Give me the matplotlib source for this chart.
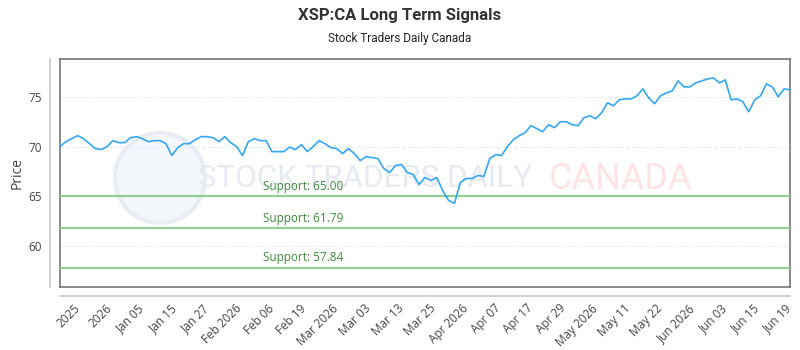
import numpy as np
import matplotlib
matplotlib.use('Agg')
import matplotlib.pyplot as plt
from matplotlib.lines import Line2D
from matplotlib.patches import Circle

# closing prices
price = [
    70.0, 70.5, 70.8, 71.1, 70.8, 70.3, 69.8, 69.7, 70.0, 70.6,
    70.4, 70.4, 70.9, 71.0, 70.8, 70.5, 70.6, 70.6, 70.3, 69.1,
    69.9, 70.3, 70.3, 70.7, 71.0, 71.0, 70.9, 70.5, 71.0, 70.4,
    70.0, 69.1, 70.5, 70.8, 70.6, 70.6, 69.5, 69.5, 69.5, 69.95,
    69.7, 70.2, 69.5, 70.0, 70.6, 70.3, 69.9, 69.8, 69.3, 69.8,
    69.3, 68.6, 69.0, 68.9, 68.8, 67.8, 67.4, 68.1, 68.2, 67.4,
    67.2, 66.2, 66.9, 66.6, 66.9, 65.6, 64.6, 64.3, 66.4, 66.8,
    66.8, 67.1, 67.0, 68.8, 69.2, 69.1, 70.0, 70.7, 71.1, 71.4,
    72.1, 71.8, 71.5, 72.2, 71.9, 72.5, 72.5, 72.2, 72.1, 72.9,
    73.1, 72.8, 73.4, 74.4, 74.1, 74.7, 74.8, 74.8, 75.1, 75.8,
    74.9, 74.3, 75.1, 75.4, 75.6, 76.6, 76.0, 76.0, 76.4, 76.6,
    76.8, 76.9, 76.4, 76.7, 74.7, 74.8, 74.5, 73.5, 74.7, 75.1,
    76.3, 76.0, 75.0, 75.8, 75.7,
]
support_levels = [65.00, 61.79, 57.84]
tick_labels = ['2025', '2026', 'Jan 05', 'Jan 15', 'Jan 27', 'Feb 2026', 'Feb 06',
               'Feb 19', 'Mar 2026', 'Mar 03', 'Mar 13', 'Mar 25', 'Apr 2026',
               'Apr 07', 'Apr 17', 'Apr 29', 'May 2026', 'May 11', 'May 22',
               'Jun 2026', 'Jun 03', 'Jun 15', 'Jun 19']

plt.rcParams['font.family'] = ['Open Sans', 'DejaVu Sans']

fig = plt.figure(figsize=(8, 3.5), dpi=100)
ax = fig.add_axes([0.075, 0.18, 0.9125, 0.6514])
x = np.arange(len(price))

# watermark (logo circle + text)
logo = Circle((1.60, 1.72), 0.45, transform=fig.dpi_scale_trans,
              facecolor='#f3f6fa', edgecolor='#e8edf4', lw=3, zorder=0.5)
ax.add_patch(logo)
ax.text(0.418, 0.475, 'STOCK TRADERS DAILY', transform=ax.transAxes, ha='center', va='center',
        fontsize=22.5, color='#e6ebf1', family=['Roboto'], zorder=1)
ax.text(0.768, 0.475, 'CANADA', transform=ax.transAxes, ha='center', va='center',
        fontsize=26, color='#fde4e4', family=['Roboto'], zorder=1)

ax.plot(x, price, color='#35a6f2', lw=1.2, zorder=4)
for lvl in support_levels:
    ax.axhline(lvl, color='#93cf93', lw=1.6, zorder=3)
    ax.text(34.5, lvl + 0.35, f'Support: {lvl:.2f}', color='#3b8a3b', fontsize=8.5,
            ha='left', va='bottom', zorder=5)

ax.set_xlim(0, len(price) - 1)
ax.set_ylim(55.9, 78.8)
ax.set_yticks([60, 65, 70, 75])
ax.grid(axis='y', color='#e6edf3', ls='--', lw=0.8)
ax.set_axisbelow(True)
ax.set_xticks(np.linspace(3, 124, len(tick_labels)))
ax.set_xticklabels(tick_labels, rotation=45, ha='right', va='center', rotation_mode='anchor')
ax.tick_params(axis='x', length=0, pad=14, labelsize=8.5, labelcolor='#444444')
ax.tick_params(axis='y', length=0, pad=13, labelsize=8.5, labelcolor='#444444')
for s in ax.spines.values():
    s.set_color('#777777')
    s.set_linewidth(1.2)
ax.set_ylabel('Price', fontsize=10, color='#444444', labelpad=3)

# offset axis lines
fig.add_artist(Line2D([0.0625, 0.0625], [0.18, 0.8314], color='#c8c8c8', lw=1.2))
fig.add_artist(Line2D([0.075, 0.9875], [0.154, 0.154], color='#c8c8c8', lw=1.2))

fig.text(0.5, 0.955, 'XSP:CA Long Term Signals', ha='center', va='center', fontsize=12,
         fontweight='bold', color='#333333', family=['Roboto'])
fig.text(0.5, 0.89, 'Stock Traders Daily Canada', ha='center', va='center', fontsize=8.5,
         color='#222222', family=['Roboto'])

fig.savefig('out.png', dpi=100)
